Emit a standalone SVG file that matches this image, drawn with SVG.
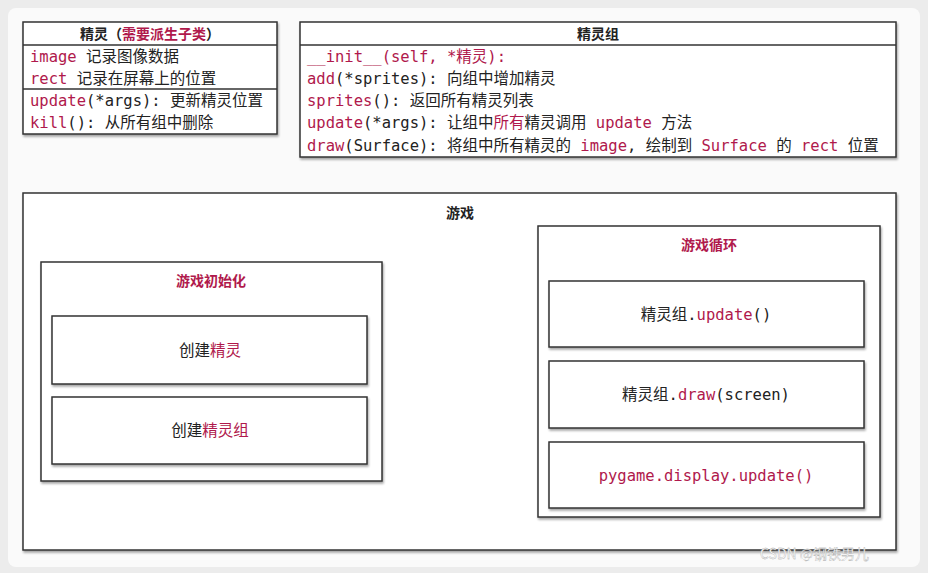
<svg xmlns="http://www.w3.org/2000/svg" width="928" height="573" viewBox="0 0 928 573">
<style>
.box{fill:#fff;stroke:#333;stroke-width:1.5}
.sh{filter:url(#ds)}
text{font-family:"DejaVu Sans Mono","Noto Sans CJK SC",monospace;font-size:15.5px;fill:#222}
.r{fill:#b0194c}
.t{font-family:"Noto Sans CJK SC",sans-serif;font-weight:bold;font-size:14px}
.c{text-anchor:middle}
</style>
<defs><filter id="ds"><feDropShadow dx="1" dy="2" stdDeviation="1.2" flood-opacity="0.35"/></filter></defs>
<rect width="928" height="573" fill="#ececec"/>
<rect x="8" y="8" width="912" height="559" rx="8" fill="#fafafa"/>
<g id="sprite">
<rect class="box sh" x="23" y="22" width="254" height="112"/>
<line x1="23" y1="45" x2="277" y2="45" stroke="#333" stroke-width="1.5"/>
<line x1="23" y1="89" x2="277" y2="89" stroke="#333" stroke-width="1.5"/>
<text class="t c" x="150" y="39">精灵（<tspan class="r">需要派生子类</tspan>）</text>
<text x="30" y="62"><tspan class="r">image</tspan> 记录图像数据</text>
<text x="30" y="84"><tspan class="r">rect</tspan> 记录在屏幕上的位置</text>
<text x="30" y="106"><tspan class="r">update</tspan>(*args): 更新精灵位置</text>
<text x="30" y="128"><tspan class="r">kill</tspan>(): 从所有组中删除</text>
</g>
<g id="group">
<rect class="box sh" x="300" y="22" width="596" height="135"/>
<line x1="300" y1="45" x2="896" y2="45" stroke="#333" stroke-width="1.5"/>
<text class="t c" x="598" y="39">精灵组</text>
<text x="307" y="62" class="r">__init__(self, *精灵):</text>
<text x="307" y="84"><tspan class="r">add</tspan>(*sprites): 向组中增加精灵</text>
<text x="307" y="106"><tspan class="r">sprites</tspan>(): 返回所有精灵列表</text>
<text x="307" y="128"><tspan class="r">update</tspan>(*args): 让组中<tspan class="r">所有</tspan>精灵调用 <tspan class="r">update</tspan> 方法</text>
<text x="307" y="151"><tspan class="r">draw</tspan>(Surface): 将组中所有精灵的 <tspan class="r">image</tspan>, 绘制到 <tspan class="r">Surface</tspan> 的 <tspan class="r">rect</tspan> 位置</text>
</g>
<g id="game">
<rect class="box sh" x="23" y="193" width="873" height="357"/>
<text class="t c" x="460" y="218">游戏</text>
</g>
<g id="init">
<rect class="box sh" x="41" y="262" width="341" height="219"/>
<text class="t c r" x="211" y="286">游戏初始化</text>
</g>
<g id="create-sprite">
<rect class="box sh" x="52" y="316" width="315" height="68"/>
<text class="c" x="210" y="356">创建<tspan class="r">精灵</tspan></text>
</g>
<g id="create-group">
<rect class="box sh" x="52" y="397" width="315" height="67"/>
<text class="c" x="210" y="436">创建<tspan class="r">精灵组</tspan></text>
</g>
<g id="loop">
<rect class="box sh" x="538" y="226" width="342" height="291"/>
<text class="t c r" x="709" y="250">游戏循环</text>
</g>
<g id="g-update">
<rect class="box sh" x="549" y="281" width="315" height="66"/>
<text class="c" x="706" y="320">精灵组.<tspan class="r">update</tspan>()</text>
</g>
<g id="g-draw">
<rect class="box sh" x="549" y="361" width="315" height="67"/>
<text class="c" x="706" y="400">精灵组.<tspan class="r">draw</tspan>(screen)</text>
</g>
<g id="display">
<rect class="box sh" x="549" y="442" width="315" height="66"/>
<text class="c r" x="706" y="481">pygame.display.update()</text>
</g>
<g id="connectors"></g>
<text x="760" y="559" style="font-family:'Noto Sans CJK SC',sans-serif;font-size:14px;fill:#fff;stroke:#999;stroke-width:0.3">CSDN @钢铁男儿</text>
</svg>
